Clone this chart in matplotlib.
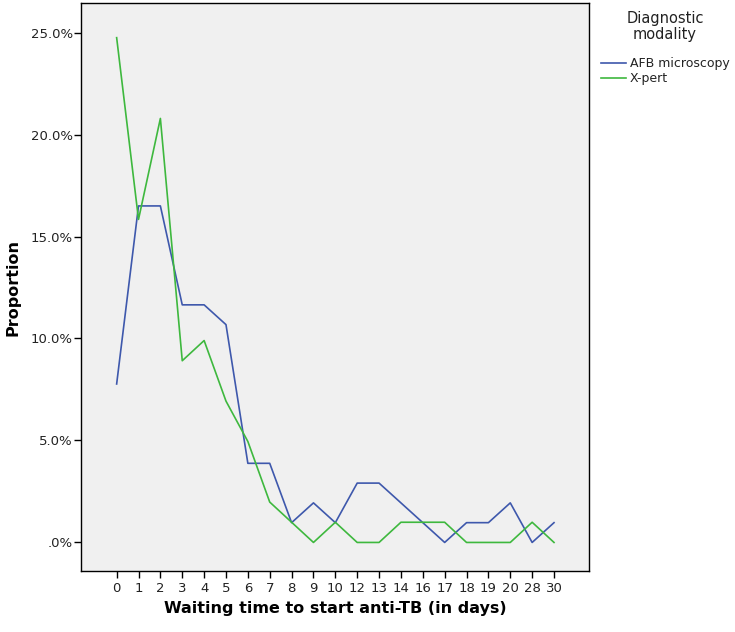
import matplotlib.pyplot as plt
import numpy as np

plt.rcParams['font.family'] = ['DejaVu Sans']

# waiting time categories (days)
dias = ['0', '1', '2', '3', '4', '5', '6', '7', '8', '9', '10', '12', '13', '14',
        '16', '17', '18', '19', '20', '28', '30']
# proportion (%) per category
afb = [7.77, 16.50, 16.50, 11.65, 11.65, 10.68, 3.88, 3.88, 0.97, 1.94, 0.97, 2.91,
       2.91, 1.94, 0.97, 0.0, 0.97, 0.97, 1.94, 0.0, 0.97]
xpert = [24.75, 15.84, 20.79, 8.91, 9.90, 6.93, 4.95, 1.98, 0.99, 0.0, 0.99, 0.0,
         0.0, 0.99, 0.99, 0.99, 0.0, 0.0, 0.0, 0.99, 0.0]
yticks = [0, 5, 10, 15, 20, 25]
ylabels = ['.0%', '5.0%', '10.0%', '15.0%', '20.0%', '25.0%']

W, H = 735, 632
fig = plt.figure(figsize=(W / 100, H / 100), dpi=100)
ax = fig.add_axes([81 / W, 1 - 571 / H, (589 - 81) / W, (571 - 3) / H])
ax.set_facecolor('#F0F0F0')

x = np.arange(len(dias))
ax.plot(x, afb, color='#3E58AC', linewidth=1.2, label='AFB microscopy')
ax.plot(x, xpert, color='#3EB83E', linewidth=1.2, label='X-pert')

ax.set_xlim(-1.63, 21.6)
ax.set_ylim(-1.4, 26.45)
ax.set_xticks(x)
ax.set_xticklabels(dias)
ax.set_yticks(yticks)
ax.set_yticklabels(ylabels)
ax.tick_params(axis='both', direction='out', length=5, width=1, colors='black',
               labelsize=9.5, labelcolor='#222222')
ax.tick_params(axis='x', pad=3)
ax.tick_params(axis='y', pad=1)
for s in ax.spines.values():
    s.set_color('black')
    s.set_linewidth(1)

ax.set_xlabel('Waiting time to start anti-TB (in days)', fontsize=11.5,
              fontweight='bold', labelpad=4)
ax.set_ylabel('Proportion', fontsize=11.5, fontweight='bold', labelpad=7)

# legend title drawn separately so the gap above the entries matches
fig.text(665 / W, 1 - 11 / H, 'Diagnostic\nmodality', ha='center', va='top',
         fontsize=10.5, linespacing=1.05, color='#222222')
leg = ax.legend(loc='upper left', bbox_to_anchor=(601 / W, 1 - 57.5 / H),
                bbox_transform=fig.transFigure, frameon=False, fontsize=9,
                handlelength=2.0, handletextpad=0.32, labelspacing=0.12,
                borderpad=0, borderaxespad=0)
for t in leg.get_texts():
    t.set_color('#222222')

fig.savefig('out.png', dpi=100)
